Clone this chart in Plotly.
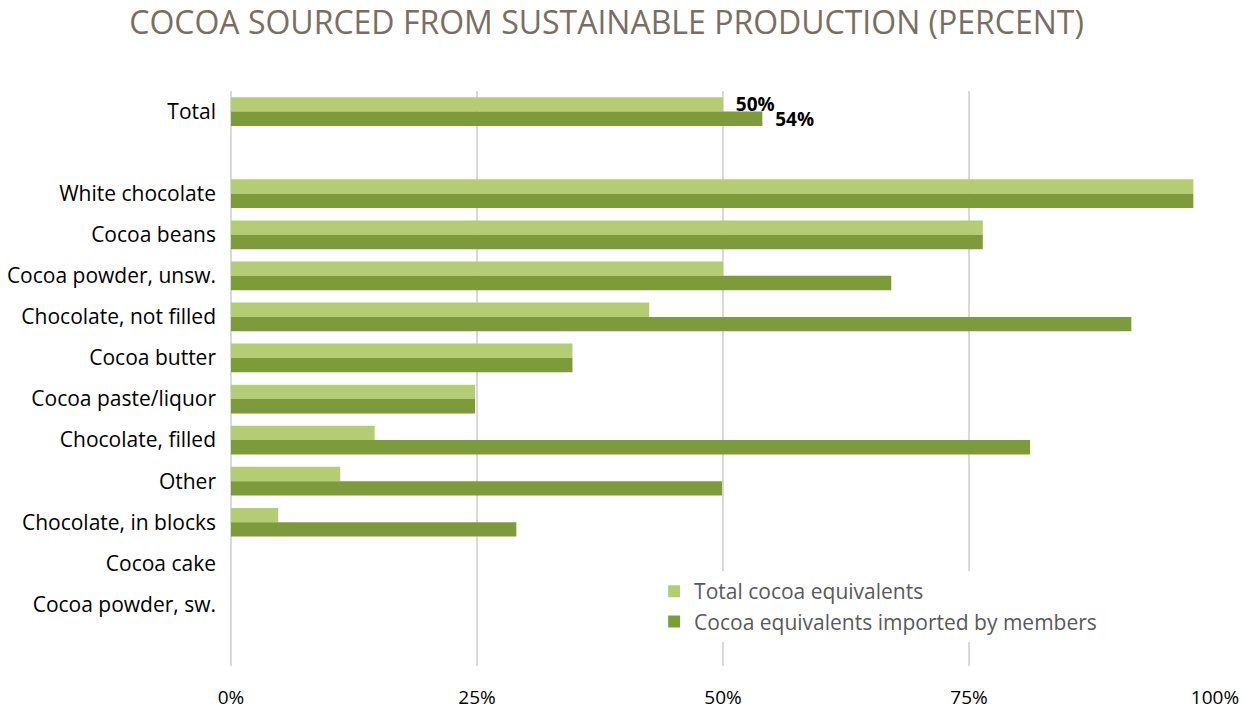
import plotly.graph_objects as go

categories = ["Total", " ", "White chocolate", "Cocoa beans", "Cocoa powder, unsw.",
              "Chocolate, not filled", "Cocoa butter", "Cocoa paste/liquor",
              "Chocolate, filled", "Other", "Chocolate, in blocks", "Cocoa cake",
              "Cocoa powder, sw.", "  "]
total_equiv = [50, None, 97.8, 76.4, 50, 42.5, 34.7, 24.8, 14.6, 11.1, 4.8, 0, 0, None]
member_equiv = [54, None, 97.8, 76.4, 67.1, 91.5, 34.7, 24.8, 81.2, 49.9, 29.0, 0, 0, None]
total_labels = ["  50%"] + [""] * 13
member_labels = ["  54%"] + [""] * 13

LIGHT = "#b4cc74"
DARK = "#7e9b3b"

fig = go.Figure()
fig.add_trace(go.Bar(
    y=categories, x=total_equiv, orientation="h", name="Total cocoa equivalents",
    marker=dict(color=LIGHT, line=dict(width=0)),
    text=total_labels, textposition="outside", cliponaxis=False, constraintext="none",
    textfont=dict(family="Open Sans", size=19, color="black", weight="bold"),
))
fig.add_trace(go.Bar(
    y=categories, x=member_equiv, orientation="h", name="Cocoa equivalents imported by members",
    marker=dict(color=DARK, line=dict(width=0)),
    text=member_labels, textposition="outside", cliponaxis=False, constraintext="none",
    textfont=dict(family="Open Sans", size=19, color="black", weight="bold"),
))

fig.update_layout(
    width=1243, height=711,
    barmode="group", bargap=0.3, bargroupgap=0,
    plot_bgcolor="white", paper_bgcolor="white",
    margin=dict(l=231, r=28, t=91, b=45),
    font=dict(family="Open Sans", color="black"),
    title=dict(text="COCOA SOURCED FROM SUSTAINABLE PRODUCTION (PERCENT)",
               x=0.488, xanchor="center", y=0.968, yanchor="middle",
               font=dict(family="Open Sans", size=32, color="#7a6e63")),
    xaxis=dict(range=[0, 100], tickvals=[0, 25, 50, 75, 100],
               ticktext=["0%", "25%", "50%", "75%", "100%"],
               showgrid=True, gridcolor="#d9d9d9", gridwidth=2,
               zeroline=True, zerolinecolor="#d9d9d9", zerolinewidth=2,
               showline=False, ticklabelstandoff=18, automargin=False,
               tickfont=dict(family="Open Sans", size=19, color="black")),
    yaxis=dict(categoryorder="array", categoryarray=categories, range=[13.5, -0.5],
               showgrid=False, showline=False, ticks="", ticklabelstandoff=14,
               automargin=False,
               tickfont=dict(family="Open Sans", size=21, color="black")),
    legend=dict(x=0.43, y=0.165, xanchor="left", yanchor="top",
                bgcolor="white", traceorder="normal",
                font=dict(family="Open Sans", size=21, color="#595959"),
                itemwidth=30, tracegroupgap=0),
    showlegend=True,
)

fig.write_html("out.html")
